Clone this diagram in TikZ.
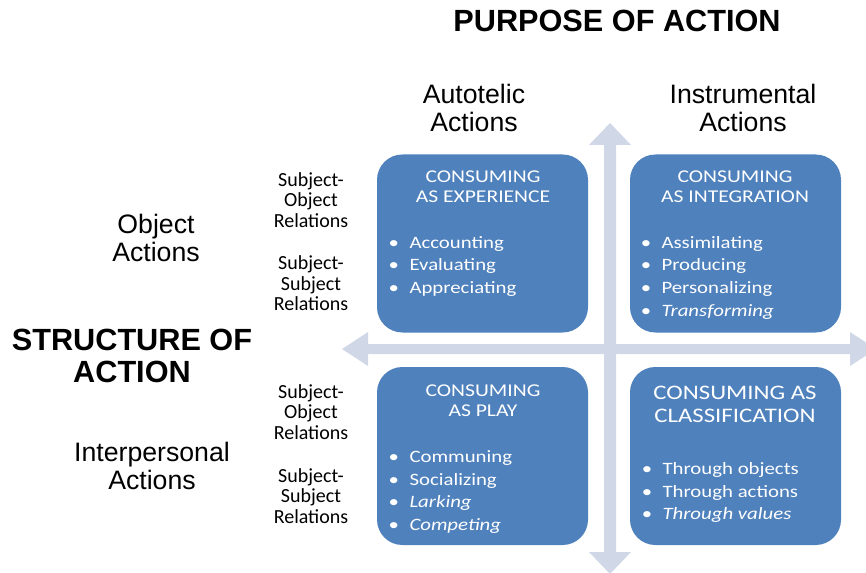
\documentclass[tikz,border=0pt]{standalone}
\usepackage{fontspec}
\setmainfont{Liberation Sans}
\newfontfamily\calfont{Carlito}
\newfontfamily\boxfont{Carlito}[FakeStretch=1.2]
\usetikzlibrary{positioning}

\definecolor{quadblue}{RGB}{79,129,189}
\definecolor{axisgray}{RGB}{208,216,232}

\tikzset{
  every picture/.style={line width=0.75pt},
  axis/.style={fill=axisgray, draw=none},
  quadbox/.style={fill=quadblue, draw=none, rounded corners=19pt,
    minimum width=158.25pt, minimum height=133.5pt, inner sep=0pt},
  bigtitle/.style={inner sep=0pt, align=center, font=\bfseries\fontsize{23}{24}\selectfont},
  dimlabel/.style={inner sep=0pt, align=center, font=\fontsize{20}{21}\selectfont},
  rellabel/.style={inner sep=0pt, align=center, font=\calfont\fontsize{15}{15.4}\selectfont},
  quadtitle/.style={inner sep=0pt, align=center, text=white, font=\boxfont\fontsize{13.5}{15}\selectfont},
  item/.style={inner sep=0pt, anchor=base west, text=white, font=\boxfont\fontsize{13}{15}\selectfont},
}

\newcommand{\bul}[1]{\llap{\textbullet\hspace{0.6em}}#1}

\begin{document}
\begin{tikzpicture}[x=0.75pt,y=0.75pt,yscale=-1,xscale=1]
\useasboundingbox (0,0) rectangle (866,573);

% the two axes
\fill[axis] (610,123) -- (631,145) -- (616,145) -- (616,552) -- (631,552) -- (610,574)
  -- (589,552) -- (604,552) -- (604,145) -- (589,145) -- cycle;
\fill[axis] (342,349) -- (368,332) -- (368,344) -- (850,344) -- (850,332) -- (876,349)
  -- (850,366) -- (850,354) -- (368,354) -- (368,366) -- cycle;

% quadrants
\node[quadbox] (experience) at (482.5,243.5) {};
\node[quadbox] (integration) at (735.5,243.5) {};
\node[quadbox] (play) at (482.5,456) {};
\node[quadbox] (classification) at (735.5,456) {};

% axis titles
\node[bigtitle] (purpose) at (617,20.5) {PURPOSE OF ACTION};
\node[bigtitle] (structure) at (132,355.5) {STRUCTURE OF\\ACTION};

% column and row headings
\node[dimlabel] (autotelic) at (474,108) {Autotelic\\Actions};
\node[dimlabel] (instrumental) at (743,108) {Instrumental\\Actions};
\node[dimlabel] (object) at (156,238) {Object\\Actions};
\node[dimlabel] (interpersonal) at (152,466) {Interpersonal\\Actions};

% relation labels
\node[rellabel] (so1) at (311,200) {Subject-\\Object\\Relations};
\node[rellabel] (ss1) at (311,283.5) {Subject-\\Subject\\Relations};
\node[rellabel] (so2) at (311,412) {Subject-\\Object\\Relations};
\node[rellabel] (ss2) at (311,496) {Subject-\\Subject\\Relations};

% quadrant headings
\node[quadtitle] (experiencetitle) at (483,187) {CONSUMING\\AS EXPERIENCE};
\node[quadtitle] (integrationtitle) at (735,187) {CONSUMING\\AS INTEGRATION};
\node[quadtitle] (playtitle) at (483,401) {CONSUMING\\AS PLAY};
\node[quadtitle, font=\boxfont\fontsize{15.5}{17.25}\selectfont] (classificationtitle) at (735,404) {CONSUMING AS\\CLASSIFICATION};

% bullet lists
\foreach \txt [count=\i] in {Accounting, Evaluating, Appreciating}
  \node[item] (experience\i) at (409,226+22.5*\i) {\bul{\txt}};
\foreach \txt [count=\i] in {Assimilating, Producing, Personalizing, \textit{Transforming}}
  \node[item] (integration\i) at (661,226+22.5*\i) {\bul{\txt}};
\foreach \txt [count=\i] in {Communing, Socializing, \textit{Larking}, \textit{Competing}}
  \node[item] (play\i) at (409,440+22.5*\i) {\bul{\txt}};
\foreach \txt [count=\i] in {Through objects, Through actions, \textit{Through values}}
  \node[item] (classification\i) at (662,452+22.5*\i) {\bul{\txt}};

\end{tikzpicture}
\end{document}
